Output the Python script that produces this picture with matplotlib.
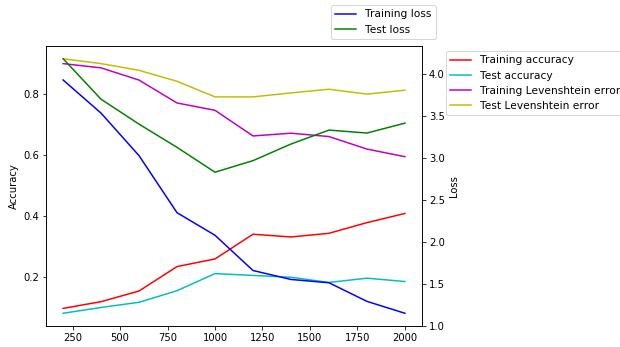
import matplotlib
matplotlib.use('Agg')
import matplotlib.pyplot as plt

# number of training samples
steps = [200, 400, 600, 800, 1000, 1200, 1400, 1600, 1800, 2000]

# left axis
train_acc = [0.096, 0.118, 0.153, 0.233, 0.258, 0.339, 0.330, 0.342, 0.377, 0.407]
test_acc = [0.080, 0.099, 0.116, 0.154, 0.210, 0.204, 0.198, 0.181, 0.195, 0.184]
train_lev = [0.898, 0.884, 0.844, 0.769, 0.745, 0.661, 0.670, 0.659, 0.618, 0.593]
test_lev = [0.914, 0.898, 0.876, 0.840, 0.789, 0.789, 0.802, 0.814, 0.798, 0.811]

# right axis
train_loss = [3.933, 3.537, 3.030, 2.350, 2.081, 1.661, 1.554, 1.515, 1.293, 1.151]
test_loss = [4.186, 3.703, 3.406, 3.129, 2.833, 2.971, 3.169, 3.335, 3.300, 3.418]

W, H = 620, 347
fig = plt.figure(figsize=(W / 72, H / 72), dpi=72)
ax1 = fig.add_axes([46 / W, 1 - 326 / H, (422 - 46) / W, (326 - 46) / H])
ax2 = ax1.twinx()

ax1.plot(steps, train_acc, 'r', label='Training accuracy')
ax1.plot(steps, test_acc, 'c', label='Test accuracy')
ax1.plot(steps, train_lev, 'm', label='Training Levenshtein error')
ax1.plot(steps, test_lev, 'y', label='Test Levenshtein error')
ax1.set_ylabel('Accuracy')

ax2.plot(steps, train_loss, 'b', label='Training loss')
ax2.plot(steps, test_loss, 'g', label='Test loss')
ax2.set_ylabel('Loss')

ax1.set_xticks([250, 500, 750, 1000, 1250, 1500, 1750, 2000])

h1, l1 = ax1.get_legend_handles_labels()
h2, l2 = ax2.get_legend_handles_labels()
fig.legend(h2, l2, loc='upper left', bbox_to_anchor=(331 / W, 1 - 5 / H),
           borderaxespad=0, fontsize=10.6)
fig.legend(h1, l1, loc='upper left', bbox_to_anchor=(446 / W, 1 - 51 / H),
           borderaxespad=0, fontsize=10.6)

plt.savefig('out.png', dpi=72)
